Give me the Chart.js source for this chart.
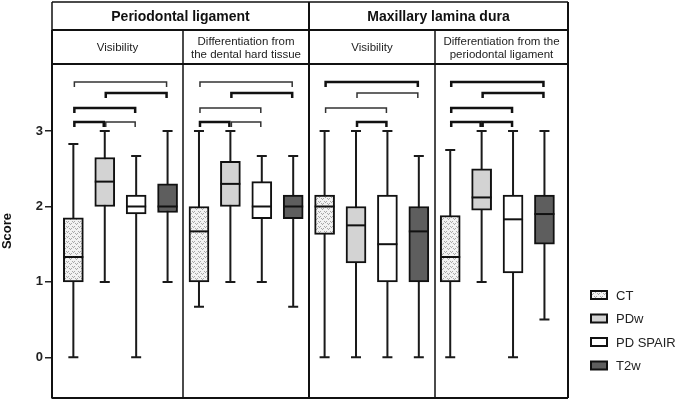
<!DOCTYPE html>
<html>
<head>
<meta charset="utf-8">
<script src="https://cdn.jsdelivr.net/npm/chart.js@4.4.1/dist/chart.umd.min.js"></script>
<style>
  html, body { margin: 0; padding: 0; background: #fff; }
  #wrap { width: 685px; height: 401px; }
</style>
</head>
<body>
<div id="wrap"><canvas id="chart" width="685" height="401"></canvas></div>
<script>
const groups = ["Periodontal ligament", "Maxillary lamina dura"];
const panels = [
    ["Visibility"],
    ["Differentiation from", "the dental hard tissue"],
    ["Visibility"],
    ["Differentiation from the", "periodontal ligament"]
];
const modalities = ["CT", "PDw", "PD SPAIR", "T2w"];
const yTicks = [0, 1, 2, 3];

// one row per modality, one column per panel
const minVals = [
    [0, 0.67, 0, 0],
    [1, 1, 0, 1],
    [0, 1, 0, 0],
    [1, 0.67, 0, 0.5]
];
const q1Vals = [
    [1, 1, 1.63, 1],
    [2, 2, 1.25, 1.95],
    [1.9, 1.84, 1, 1.12],
    [1.92, 1.84, 1, 1.5]
];
const medVals = [
    [1.33, 1.67, 2, 1.33],
    [2.33, 2.3, 1.75, 2.12],
    [2, 2, 1.5, 1.83],
    [2, 2, 1.67, 1.9]
];
const q3Vals = [
    [1.85, 2, 2.15, 1.88],
    [2.65, 2.6, 2, 2.5],
    [2.15, 2.33, 2.15, 2.15],
    [2.3, 2.15, 2, 2.15]
];
const maxVals = [
    [2.83, 3, 3, 2.75],
    [3, 3, 3, 3],
    [2.67, 2.67, 3, 3],
    [3, 2.67, 2.67, 3]
];

// significance brackets: panel, from modality, to modality, level, strong
const brackets = [
    [0, 0, 3, 0, false], [0, 1, 3, 1, true], [0, 0, 2, 2, true], [0, 0, 1, 3, true], [0, 1, 2, 3, false],
    [1, 0, 3, 0, false], [1, 1, 3, 1, true], [1, 0, 2, 2, false], [1, 0, 1, 3, true], [1, 1, 2, 3, false],
    [2, 0, 3, 0, true], [2, 1, 3, 1, false], [2, 0, 2, 2, false], [2, 1, 2, 3, true],
    [3, 0, 3, 0, true], [3, 1, 3, 1, true], [3, 0, 2, 2, true], [3, 0, 1, 3, true], [3, 1, 2, 3, true]
];
const bracketLevels = [3.65, 3.5, 3.3, 3.12];

const FONT = "'Liberation Sans', Arial, sans-serif";
Chart.defaults.font.family = FONT;
Chart.defaults.color = "#222";

// light speckled fill used for CT
function stipple() {
    const c = document.createElement("canvas");
    c.width = 6;
    c.height = 5;
    const g = c.getContext("2d");
    g.fillStyle = "#f2f2f2";
    g.fillRect(0, 0, 6, 5);
    g.fillStyle = "#a8a8a8";
    g.fillRect(0, 1, 1, 1);
    g.fillRect(1, 2, 1, 1);
    g.fillRect(2, 1, 1, 1);
    g.fillRect(3, 3, 1, 1);
    g.fillRect(4, 4, 1, 1);
    g.fillRect(5, 3, 1, 1);
    return g.createPattern(c, "repeat");
}

const fills = [stipple(), "#d3d3d3", "#ffffff", "#5e5e5e"];

const datasets = modalities.map((m, i) => ({
    label: m,
    data: q1Vals[i].map((q1, p) => ({ x: p * 4 + i, y: [q1, q3Vals[i][p]] })),
    backgroundColor: fills[i],
    borderColor: "#111",
    borderWidth: 2,
    borderSkipped: false,
    barThickness: 20,
    grouped: false
}));

const boxPlot = {
    id: "boxPlot",
    beforeDatasetsDraw(chart) {
        const ctx = chart.ctx;
        const ys = chart.scales.y;
        ctx.save();
        ctx.strokeStyle = "#1a1a1a";
        ctx.lineWidth = 2;
        chart.data.datasets.forEach((ds, i) => {
            chart.getDatasetMeta(i).data.forEach((el, p) => {
                const top = ys.getPixelForValue(maxVals[i][p]);
                const bot = ys.getPixelForValue(minVals[i][p]);
                ctx.beginPath();
                ctx.moveTo(el.x, top);
                ctx.lineTo(el.x, bot);
                ctx.moveTo(el.x - 5, top);
                ctx.lineTo(el.x + 5, top);
                ctx.moveTo(el.x - 5, bot);
                ctx.lineTo(el.x + 5, bot);
                ctx.stroke();
            });
        });
        ctx.restore();
    },
    afterDatasetsDraw(chart) {
        const ctx = chart.ctx;
        const ys = chart.scales.y;
        ctx.save();
        ctx.strokeStyle = "#111";
        ctx.lineWidth = 2;
        chart.data.datasets.forEach((ds, i) => {
            chart.getDatasetMeta(i).data.forEach((el, p) => {
                const y = ys.getPixelForValue(medVals[i][p]);
                ctx.beginPath();
                ctx.moveTo(el.x - el.width / 2, y);
                ctx.lineTo(el.x + el.width / 2, y);
                ctx.stroke();
            });
        });
        ctx.restore();
    },
    afterDraw(chart) {
        const ctx = chart.ctx;
        const xs = chart.scales.x;
        const ys = chart.scales.y;
        const ca = chart.chartArea;
        const headTop = 2, headMid = 30;
        const div = k => Math.round(xs.getPixelForValue(k * 4 - 0.5));

        ctx.save();
        // frame and header table
        ctx.strokeStyle = "#111";
        ctx.lineWidth = 2;
        ctx.beginPath();
        ctx.moveTo(ca.left, headMid); ctx.lineTo(ca.right, headMid);
        ctx.moveTo(ca.left, ca.top); ctx.lineTo(ca.right, ca.top);
        ctx.moveTo(ca.left, ca.bottom); ctx.lineTo(ca.right, ca.bottom);
        ctx.moveTo(ca.left, headMid); ctx.lineTo(ca.left, ca.bottom);
        ctx.moveTo(ca.right, headTop); ctx.lineTo(ca.right, ca.bottom);
        ctx.moveTo(div(2), headTop); ctx.lineTo(div(2), ca.bottom);
        ctx.stroke();
        ctx.lineWidth = 1.5;
        ctx.beginPath();
        ctx.moveTo(ca.left, headTop); ctx.lineTo(ca.right, headTop);
        ctx.moveTo(ca.left, headTop); ctx.lineTo(ca.left, headMid);
        ctx.moveTo(div(1), headMid); ctx.lineTo(div(1), ca.bottom);
        ctx.moveTo(div(3), headMid); ctx.lineTo(div(3), ca.bottom);
        ctx.stroke();

        // header text
        ctx.fillStyle = "#111";
        ctx.textAlign = "center";
        ctx.textBaseline = "middle";
        ctx.font = "bold 14px " + FONT;
        ctx.fillText(groups[0], (ca.left + div(2)) / 2, (headTop + headMid) / 2 + 1);
        ctx.fillText(groups[1], (div(2) + ca.right) / 2, (headTop + headMid) / 2 + 1);
        ctx.font = "11.5px " + FONT;
        ctx.fillStyle = "#222";
        const edges = [ca.left, div(1), div(2), div(3), ca.right];
        panels.forEach((lines, p) => {
            const cx = (edges[p] + edges[p + 1]) / 2;
            const cy = (headMid + ca.top) / 2 + 1;
            lines.forEach((t, k) => {
                ctx.fillText(t, cx, cy + (k - (lines.length - 1) / 2) * 13);
            });
        });

        // brackets
        brackets.forEach(([p, a, b, lvl, strong]) => {
            const x1 = xs.getPixelForValue(p * 4 + a) + 1;
            const x2 = xs.getPixelForValue(p * 4 + b) - 1;
            const y = Math.round(ys.getPixelForValue(bracketLevels[lvl]));
            ctx.lineWidth = strong ? 2.5 : 1.5;
            ctx.strokeStyle = strong ? "#111" : "#333";
            ctx.beginPath();
            ctx.moveTo(x1, y + 5);
            ctx.lineTo(x1, y);
            ctx.lineTo(x2, y);
            ctx.lineTo(x2, y + 5);
            ctx.stroke();
        });

        // legend
        ctx.textAlign = "left";
        ctx.font = "13px " + FONT;
        chart.data.datasets.forEach((ds, i) => {
            const lx = ca.right + 23;
            const ly = ca.bottom - 103 + i * 23.5;
            ctx.fillStyle = ds.backgroundColor;
            ctx.fillRect(lx, ly - 4, 16, 8);
            ctx.strokeStyle = "#111";
            ctx.lineWidth = 2;
            ctx.strokeRect(lx, ly - 4, 16, 8);
            ctx.fillStyle = "#222";
            ctx.fillText(ds.label, lx + 25, ly + 1);
        });
        ctx.restore();
    }
};

new Chart(document.getElementById("chart"), {
    type: "bar",
    data: { datasets: datasets },
    options: {
        responsive: false,
        animation: false,
        layout: { padding: { top: 64, right: 117, bottom: 3, left: 0 } },
        plugins: { legend: { display: false }, tooltip: { enabled: false } },
        scales: {
            x: {
                type: "linear",
                offset: false,
                min: -0.68,
                max: 15.75,
                display: false
            },
            y: {
                min: -0.54,
                max: 3.89,
                afterFit: s => { s.width = 52; s.paddingTop = 0; s.paddingBottom = 0; },
                afterBuildTicks: s => { s.ticks = yTicks.map(v => ({ value: v })); },
                ticks: { font: { size: 13, weight: "bold" }, color: "#222", padding: 2 },
                grid: { drawOnChartArea: false, drawTicks: true, tickLength: 7, color: "#222", lineWidth: 1.5 },
                border: { display: true, color: "#111", width: 2 },
                title: { display: true, text: "Score", font: { size: 13, weight: "bold" }, color: "#111", padding: 0 }
            }
        }
    },
    plugins: [boxPlot]
});
</script>
</body>
</html>
